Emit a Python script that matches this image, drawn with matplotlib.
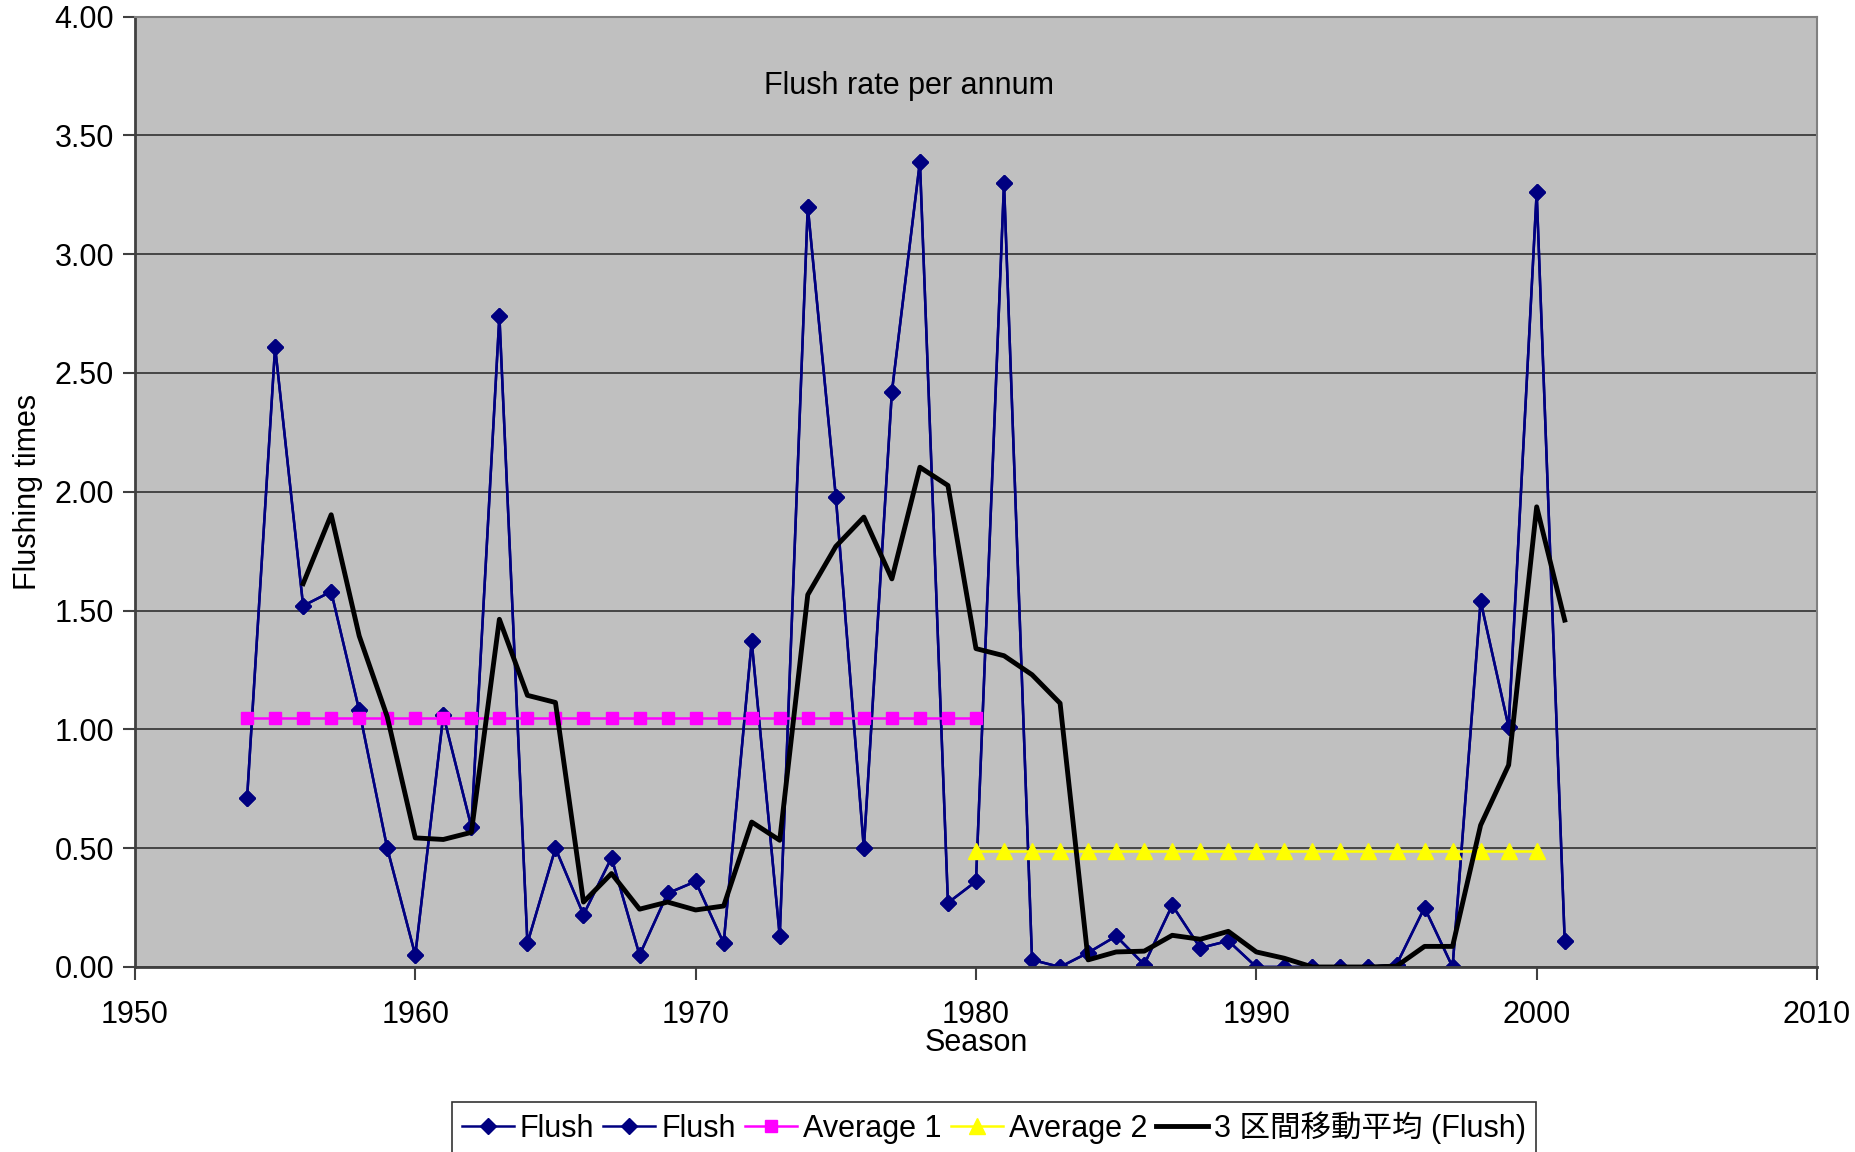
import numpy as np
import matplotlib.pyplot as plt
import pandas as pd

plt.rcParams['font.family'] = ['Liberation Sans', 'Noto Sans CJK JP', 'DejaVu Sans']

# flushes per season
years = list(range(1954, 2002))
flush = [0.71, 2.61, 1.52, 1.58, 1.08, 0.50, 0.05, 1.06, 0.59, 2.74,
         0.10, 0.50, 0.22, 0.46, 0.05, 0.31, 0.36, 0.10, 1.37, 0.13,
         3.20, 1.98, 0.50, 2.42, 3.39, 0.27, 0.36, 3.30, 0.03, 0.00,
         0.06, 0.13, 0.01, 0.26, 0.08, 0.11, 0.00, 0.00, 0.00, 0.00,
         0.00, 0.01, 0.25, 0.00, 1.54, 1.01, 3.26, 0.11]

avg1_years = list(range(1954, 1981))
avg1 = [1.05] * len(avg1_years)
avg2_years = list(range(1980, 2001))
avg2 = [0.49] * len(avg2_years)

T = pd.DataFrame({'year': years, 'flush': flush})
T['ma3'] = T['flush'].rolling(3).mean()

fig = plt.figure(figsize=(18.56, 11.52), dpi=100)
ax = fig.add_axes([0.0727, 0.1606, 0.9063, 0.825])
ax.set_facecolor('#C0C0C0')

ax.plot(T['year'], T['flush'], color='#000080', lw=1.8, marker='D', ms=8, label='Flush')
ax.plot(T['year'], T['flush'], color='#000080', lw=1.8, marker='D', ms=8, label='Flush')
ax.plot(avg1_years, avg1, color='#FF00FF', lw=1.8, marker='s', ms=9, label='Average 1')
ax.plot(avg2_years, avg2, color='#FFFF00', lw=1.8, marker='^', ms=11, label='Average 2')
ax.plot(T['year'], T['ma3'], color='black', lw=3.5, label='3 区間移動平均 (Flush)')

ax.set_xlim(1950, 2010)
ax.set_ylim(0, 4)
ax.set_xticks(range(1950, 2011, 10))
ax.set_yticks(np.arange(0, 4.01, 0.5))
ax.set_yticklabels(['%.2f' % v for v in np.arange(0, 4.01, 0.5)])
ax.grid(axis='y', color='#303030', lw=1.2)
ax.set_axisbelow(True)
ax.tick_params(labelsize=22, length=9, width=1.5, color='#404040', direction='out')
ax.tick_params(axis='x', pad=15)
ax.tick_params(axis='y', pad=6)

for s in ['left', 'bottom']:
    ax.spines[s].set_color('#404040')
    ax.spines[s].set_linewidth(2)
for s in ['top', 'right']:
    ax.spines[s].set_color('#808080')
    ax.spines[s].set_linewidth(1.5)

ax.set_xlabel('Season', fontsize=22, labelpad=-2)
ax.set_ylabel('Flushing times', fontsize=22, labelpad=8)
ax.text(0.46, 0.927, 'Flush rate per annum', transform=ax.transAxes,
        fontsize=22, ha='center', va='center')

leg = fig.legend(loc='upper center', bbox_to_anchor=(0.5356, 0.0435), ncol=5,
                 fontsize=22, frameon=True, fancybox=False, edgecolor='black',
                 handlelength=1.7, handletextpad=0.2, columnspacing=0.3,
                 borderpad=0.3, borderaxespad=0)
leg.get_frame().set_linewidth(1.2)

fig.savefig('out.png', dpi=100)
